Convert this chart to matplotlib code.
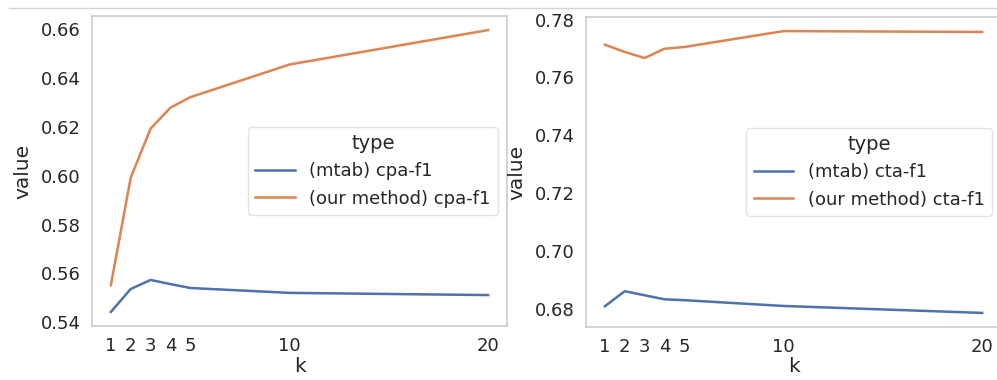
import matplotlib
matplotlib.use("Agg")
import matplotlib.pyplot as plt
from matplotlib.lines import Line2D

# k values shared by both panels
k = [1, 2, 3, 4, 5, 10, 20]

# left panel: cpa-f1
cpa_mtab = [0.5442, 0.5536, 0.5573, 0.5556, 0.5540, 0.5520, 0.5511]
cpa_ours = [0.5552, 0.5992, 0.6193, 0.6279, 0.6322, 0.6456, 0.6597]

# right panel: cta-f1
cta_mtab = [0.6809, 0.6861, 0.6847, 0.6833, 0.6830, 0.6810, 0.6786]
cta_ours = [0.7713, 0.7688, 0.7667, 0.7699, 0.7705, 0.7760, 0.7757]

blue = "#4C72B0"
orange = "#DD8452"
spine_col = "#cccccc"
text_col = "#262626"

plt.rcParams["font.family"] = ["DejaVu Sans"]
plt.rcParams["text.color"] = text_col
plt.rcParams["axes.labelcolor"] = text_col
plt.rcParams["xtick.color"] = text_col
plt.rcParams["ytick.color"] = text_col

W, H = 997, 380
fig = plt.figure(figsize=(W / 100, H / 100), dpi=100)

# thin frame line along the top, as in the screenshot
fig.add_artist(Line2D([9 / W, 1.0], [1 - 8 / H, 1 - 8 / H], color="#d4d4d4", lw=1.0))


def panel(rect, y1, y2, name):
    ax = fig.add_axes(rect)
    ax.plot(k, y1, color=blue, lw=1.8, label="(mtab) " + name)
    ax.plot(k, y2, color=orange, lw=1.8, label="(our method) " + name)
    ax.set_xticks(k)
    ax.set_xlabel("k", fontsize=14.5, labelpad=1)
    ax.set_ylabel("value", fontsize=14.5, labelpad=6)
    ax.tick_params(length=0, labelsize=13, pad=8)
    for s in ax.spines.values():
        s.set_color(spine_col)
        s.set_linewidth(1.2)
    ax.grid(False)
    leg = ax.legend(title="type", loc="center right", fontsize=13,
                    title_fontsize=14, frameon=True, borderaxespad=0.5,
                    handlelength=2.2)
    leg.get_frame().set_edgecolor("#dddddd")
    return ax


ax1 = panel([92 / W, 54 / H, 415 / W, 310 / H], cpa_mtab, cpa_ours, "cpa-f1")
ax1.set_yticks([0.54, 0.56, 0.58, 0.60, 0.62, 0.64, 0.66])

ax2 = panel([586 / W, 53 / H, 415 / W, 310 / H], cta_mtab, cta_ours, "cta-f1")
ax2.set_yticks([0.68, 0.70, 0.72, 0.74, 0.76, 0.78])

fig.savefig("out.png", dpi=100)
